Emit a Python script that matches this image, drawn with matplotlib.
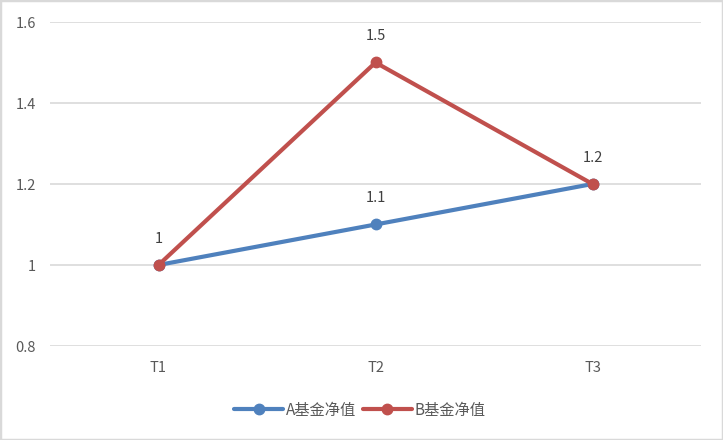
import matplotlib
matplotlib.use("Agg")
import matplotlib.pyplot as plt
from matplotlib.patches import Rectangle

plt.rcParams['font.family'] = ['Noto Sans CJK SC', 'DejaVu Sans']

categories = ["T1", "T2", "T3"]
series_a = [1.0, 1.1, 1.2]
series_b = [1.0, 1.5, 1.2]
name_a = "A基金净值"
name_b = "B基金净值"
yticks = [0.8, 1.0, 1.2, 1.4, 1.6]
ytick_labels = ["0.8", "1", "1.2", "1.4", "1.6"]

fig = plt.figure(figsize=(7.23, 4.40), dpi=100)
ax = fig.add_axes([50/723, 1-346/440, 651/723, 324/440])

x = list(range(len(categories)))
blue = "#4F81BD"
red = "#C0504D"
ax.plot(x, series_a, color=blue, lw=3, marker="o", ms=7.5, label=name_a, zorder=3, solid_capstyle="round")
ax.plot(x, series_b, color=red, lw=3, marker="o", ms=7.5, label=name_b, zorder=4, solid_capstyle="round")

drawn = set()
for ys in (series_a, series_b):
    for xi, yi in zip(x, ys):
        if (xi, yi) in drawn:
            continue
        drawn.add((xi, yi))
        ax.annotate(f"{yi:g}", (xi, yi), xytext=(0, 19), textcoords="offset points",
                    ha="center", va="center", fontsize=10.5, color="#404040")

ax.set_xlim(-0.5, 2.5)
ax.set_ylim(0.8, 1.6)
ax.set_yticks(yticks)
ax.set_yticklabels(ytick_labels)
ax.set_xticks(x)
ax.set_xticklabels(categories)
ax.tick_params(axis="both", length=0, labelsize=10.5, labelcolor="#595959")
ax.tick_params(axis="y", pad=10)
ax.tick_params(axis="x", pad=11)
ax.grid(axis="y", color="#d9d9d9", lw=1.2)
ax.set_axisbelow(True)
for sp in ax.spines.values():
    sp.set_visible(False)

leg = fig.legend(loc="center", bbox_to_anchor=(360/723, 1-410/440), ncol=2, frameon=False,
                 fontsize=11, handlelength=3.2, columnspacing=0.4, handletextpad=0.2,
                 labelcolor="#595959")

fig.patches.append(Rectangle((0, 0), 1, 1, transform=fig.transFigure, fill=False,
                             edgecolor="#d9d9d9", lw=2.5, zorder=10))

fig.savefig("out.png", dpi=100)
